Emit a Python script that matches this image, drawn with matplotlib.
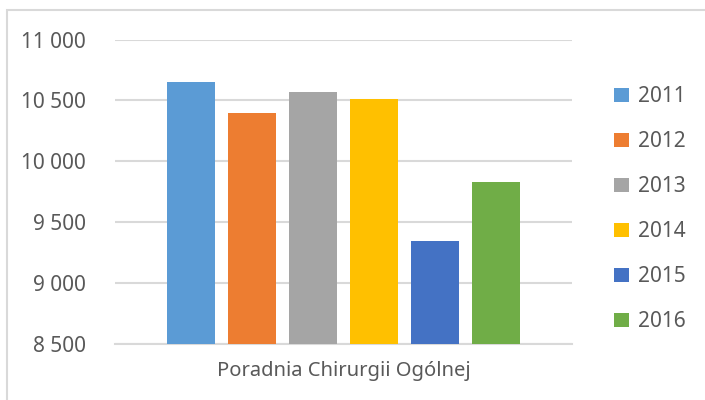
import matplotlib.pyplot as plt
from matplotlib.patches import Rectangle

# --- Data ---
category = "Poradnia Chirurgii Ogólnej"
years = ["2011", "2012", "2013", "2014", "2015", "2016"]
visits = [10650, 10400, 10570, 10510, 9345, 9830]
colors = ["#5B9BD5", "#ED7D31", "#A5A5A5", "#FFC000", "#4472C4", "#70AD47"]

yticks = [8500, 9000, 9500, 10000, 10500, 11000]

plt.rcParams['font.family'] = ['Noto Sans', 'DejaVu Sans']
text_color = "#595959"
grid_color = "#D9D9D9"

fig = plt.figure(figsize=(7.05, 4.0), dpi=100)
ax = fig.add_axes([115 / 705, 1 - 344 / 400, 457 / 705, (344 - 39.5) / 400])

# chart area frame
fig.patches.append(Rectangle((7 / 705, -0.1), 1.2, 1 - 9.5 / 400 + 0.1,
                             transform=fig.transFigure, fill=False,
                             edgecolor=grid_color, lw=1.5))

for i, (yr, v, c) in enumerate(zip(years, visits, colors)):
    ax.bar(i, v - 8500, bottom=8500, width=0.79, color=c, label=yr, zorder=3)

ax.set_ylim(8500, 11000)
ax.set_xlim(-1.246, 6.246)
ax.set_yticks(yticks)
ax.set_yticklabels([f"{t:,}".replace(",", " ") for t in yticks])
ax.set_xticks([2.5])
ax.set_xticklabels([category])
ax.tick_params(axis='y', length=0, pad=21, labelsize=15, labelcolor=text_color)
ax.tick_params(axis='x', length=0, pad=12, labelsize=14.5, labelcolor=text_color)
ax.yaxis.grid(True, color=grid_color, lw=1.5, zorder=0)
for s in ["top", "right", "left"]:
    ax.spines[s].set_visible(False)
ax.spines["bottom"].set_color(grid_color)
ax.spines["bottom"].set_linewidth(1.5)
ax.set_facecolor("none")

leg = fig.legend(loc="upper left", bbox_to_anchor=(606 / 705, 1 - 78 / 400),
                 frameon=False, fontsize=15, handlelength=0.7, handleheight=0.7,
                 handletextpad=0.45, labelspacing=1.15, borderaxespad=0)
for t in leg.get_texts():
    t.set_color(text_color)

fig.savefig("out.png", dpi=100)
